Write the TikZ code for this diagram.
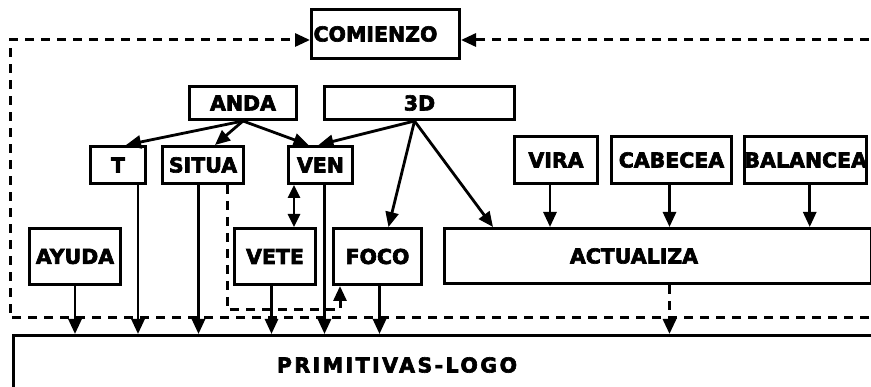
\documentclass[tikz,border=0pt]{standalone}
\usepackage{fontspec}
\setmainfont{DejaVu Sans}[BoldFeatures={FakeBold=3}]
\usetikzlibrary{arrows.meta}
\begin{document}
\begin{tikzpicture}[x=1pt,y=-1pt,
  lbl/.style={font=\fontsize{20.5}{20.5}\selectfont\bfseries},
  box/.style={lbl,draw,line width=3pt,inner sep=0pt,anchor=north west},
  tip/.style={-{Triangle[length=15pt,width=13pt]}},
  conn/.style={line width=2.8pt,tip},
  dconn/.style={line width=3pt,dash pattern=on 9pt off 7pt,tip}]
\useasboundingbox (0,0) rectangle (871,387);
\fill[white] (0,0) rectangle (871,387);
% boxes
\node[box,minimum width=148pt,minimum height=49pt] (comienzo) at (310,8) {COMIENZO\kern20pt};
\node[box,minimum width=107pt,minimum height=33pt] (anda) at (188,85) {ANDA};
\node[box,minimum width=190pt,minimum height=33pt] (d3) at (323,85) {3D};
\node[box,minimum width=55pt,minimum height=37pt] (t) at (89,145) {T};
\node[box,minimum width=81pt,minimum height=37pt] (situa) at (161,145) {SITUA};
\node[box,minimum width=64pt,minimum height=37pt] (ven) at (287,145) {VEN};
\node[box,minimum width=83pt,minimum height=47pt] (vira) at (513,135) {VIRA};
\node[box,minimum width=120pt,minimum height=47pt] (cabecea) at (610,135) {CABECEA};
\node[box,minimum width=122pt,minimum height=47pt] (balancea) at (743,135) {BALANCEA};
\node[box,minimum width=91pt,minimum height=56pt] (ayuda) at (28,227) {AYUDA};
\node[box,minimum width=81pt,minimum height=56pt] (vete) at (233,227) {VETE};
\node[box,minimum width=88pt,minimum height=56pt] (foco) at (332,227) {FOCO};
\node[box,minimum width=427pt,minimum height=55pt] (actualiza) at (443,227) {ACTUALIZA\kern48pt};
\node[box,minimum width=900pt,minimum height=100pt] (prim) at (12,334) {};
\node[lbl] (primlabel) at (397,365) {\addfontfeature{LetterSpace=12}PRIMITIVAS-LOGO};
% dashed loop
\coordinate (tl) at (10,40);
\coordinate (tr) at (885,40);
\coordinate (br) at (885,318);
\draw[dconn] (br) -| (tl) -- (tl -| comienzo.west);
\draw[dconn] (tr) -- (tr -| comienzo.east);
\draw[dconn] ([xshift=-18pt]situa.south east) -- ++(0,125) -| ([xshift=8pt]foco.south west);
\draw[dconn] ([xshift=-2pt]cabecea.south |- actualiza.south) -- ([xshift=-2pt]cabecea.south |- prim.north);
% from ANDA and 3D
\draw[conn] (anda.south) -- ([xshift=-21pt]t.north east);
\draw[conn] (anda.south) -- ([xshift=12pt]situa.north);
\draw[conn] (anda.south) -- ([xshift=-12pt]ven.north);
\draw[conn] ([xshift=-5pt]d3.south) -- ([xshift=-2pt]ven.north);
\draw[conn] ([xshift=-5pt]d3.south) -- ([xshift=11pt]foco.north);
\draw[conn] ([xshift=-5pt]d3.south) -- ([xshift=50pt]actualiza.north west);
% into ACTUALIZA
\draw[conn] ([xshift=-6pt]vira.south) -- ([xshift=-6pt]vira.south |- actualiza.north);
\draw[conn] ([xshift=-2pt]cabecea.south) -- ([xshift=-2pt]cabecea.south |- actualiza.north);
\draw[conn] ([xshift=4pt]balancea.south) -- ([xshift=4pt]balancea.south |- actualiza.north);
% VEN <-> VETE
\draw[line width=2.8pt,{Triangle[length=13pt,width=12pt]}-{Triangle[length=13pt,width=12pt]}] ([xshift=7pt]ven.south west) -- ([xshift=7pt]ven.south west |- vete.north);
% into PRIMITIVAS
\draw[conn] (ayuda.south) -- (ayuda.south |- prim.north);
\draw[conn] ([xshift=-9pt]t.south east) -- ([xshift=-9pt]t.south east |- prim.north);
\draw[conn] ([xshift=-4.5pt]situa.south) -- ([xshift=-4.5pt]situa.south |- prim.north);
\draw[conn] ([xshift=-3.5pt]vete.south) -- ([xshift=-3.5pt]vete.south |- prim.north);
\draw[conn] ([xshift=4pt]ven.south) -- ([xshift=4pt]ven.south |- prim.north);
\draw[conn] ([xshift=2pt]foco.south) -- ([xshift=2pt]foco.south |- prim.north);
\end{tikzpicture}
\end{document}
